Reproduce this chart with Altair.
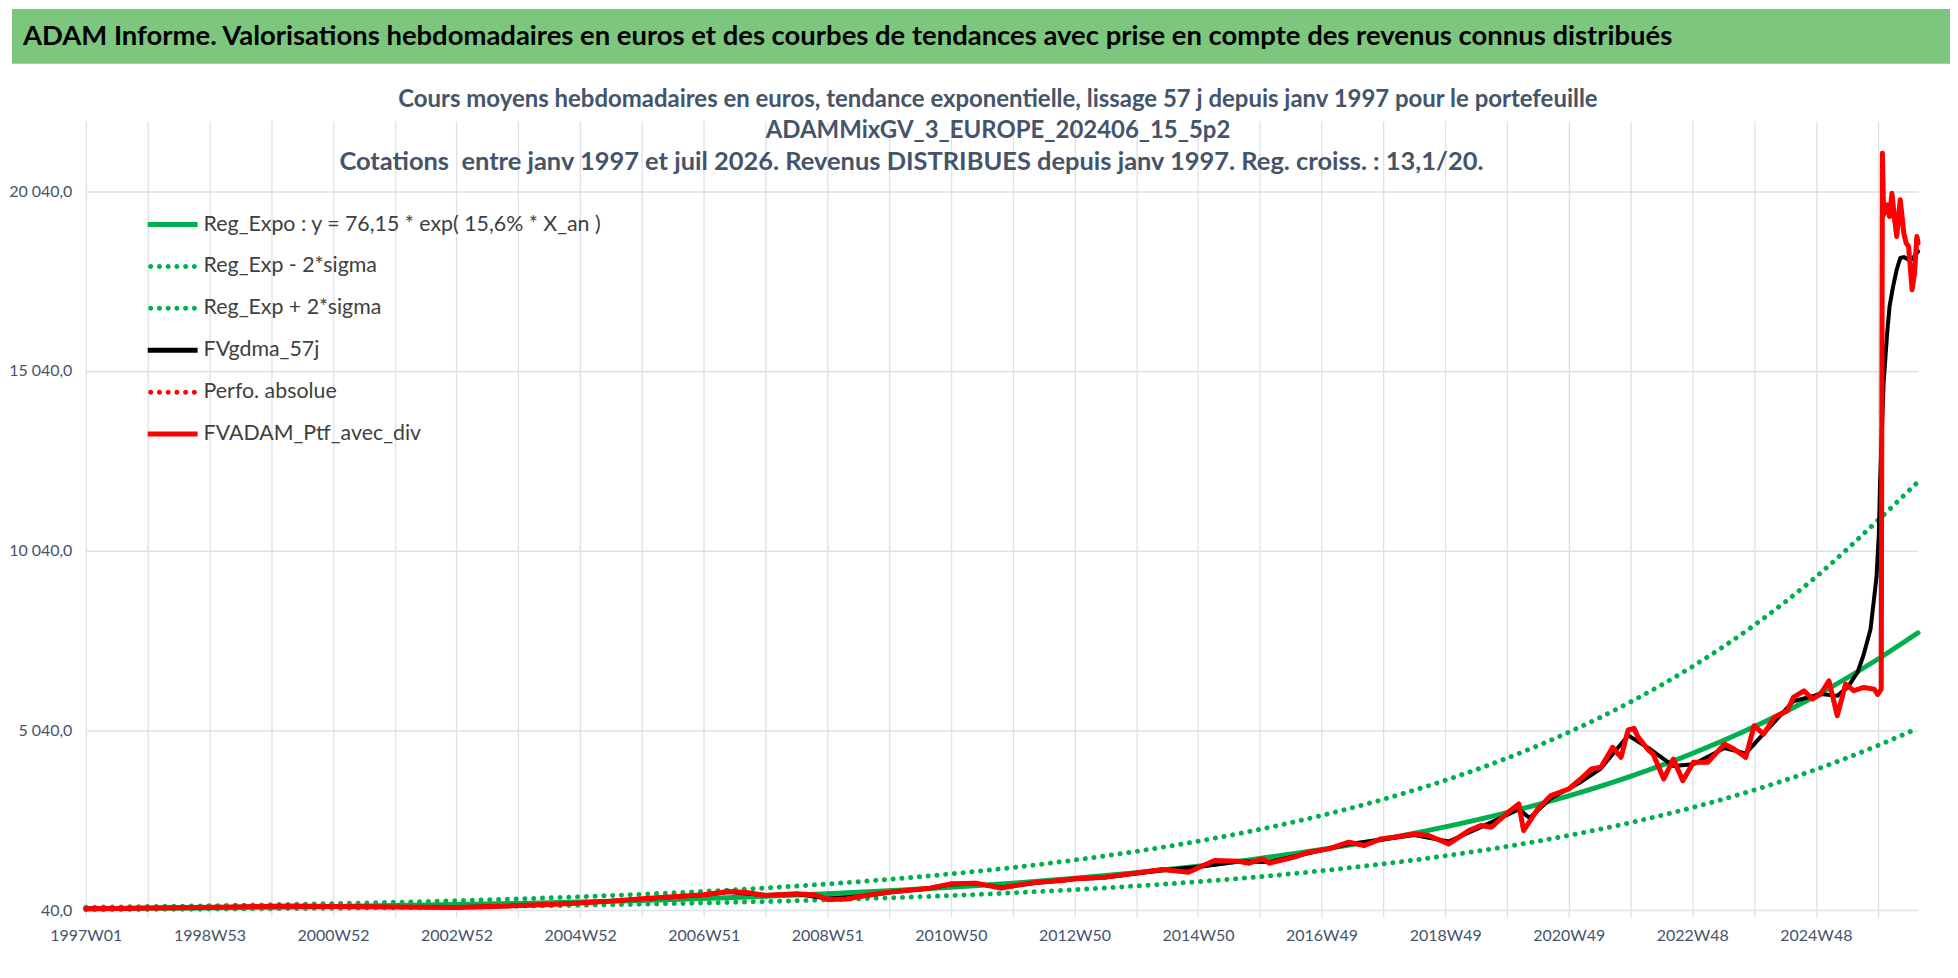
import altair as alt
import pandas as pd

# ---------------- data ----------------
banner_title = ["ADAM Informe. Valorisations hebdomadaires en euros et des courbes de tendances avec prise en compte des revenus connus distribués"]
chart_title = [
    "Cours moyens hebdomadaires  en euros, tendance exponentielle, lissage 57 j depuis janv 1997 pour le portefeuille",
    "ADAMMixGV_3_EUROPE_202406_15_5p2",
]
chart_subtitle = "Cotations\u00a0 entre janv 1997 et juil 2026. Revenus DISTRIBUES depuis janv 1997. Reg. croiss. : 13,1/20." + "\u00a0" * 28 + "\u200b"
series_names = [
    "Reg_Expo : y = 76,15 * exp( 15,6% *  X_an )",
    "Reg_Exp - 2*sigma",
    "Reg_Exp + 2*sigma",
    "FVgdma_57j",
    "Perfo. absolue",
    "FVADAM_Ptf_avec_div",
]
x_tick_labels = ["1997W01", "1998W53", "2000W52", "2002W52", "2004W52", "2006W51", "2008W51",
                 "2010W50", "2012W50", "2014W50", "2016W49", "2018W49", "2020W49", "2022W48", "2024W48"]
y_ticks = [40, 5040, 10040, 15040, 20040]

# week index since 1997W01
reg_week = [0, 52, 104, 156, 208, 260, 312, 364, 416, 468, 520, 572, 624, 676, 728, 780,
            832, 884, 936, 988, 1040, 1092, 1144, 1196, 1248, 1300, 1352, 1404, 1456, 1508, 1542]
reg_expo = [76, 89, 104, 122, 142, 166, 194, 227, 265, 310, 362, 423, 495, 579, 676, 790,
            924, 1080, 1262, 1475, 1724, 2015, 2355, 2753, 3218, 3761, 4396, 5138, 6005, 7019, 7755]
reg_upper = [118, 138, 161, 189, 220, 257, 301, 352, 411, 481, 561, 656, 767, 897, 1048, 1225,
             1432, 1674, 1956, 2286, 2672, 3123, 3650, 4267, 4988, 5830, 6814, 7964, 9308, 10879, 11957]
reg_lower = [50, 59, 68, 80, 93, 109, 128, 149, 174, 204, 238, 278, 326, 381, 445, 520,
             608, 711, 830, 970, 1134, 1326, 1549, 1811, 2117, 2474, 2892, 3380, 3951, 4618, 5102]

red_points = [
    (0, 78), (26, 85), (52, 98), (78, 108), (104, 118), (130, 128), (156, 148), (172, 155),
    (192, 145), (208, 140), (234, 135), (260, 125), (286, 118), (312, 115), (338, 135),
    (364, 165), (390, 195), (416, 240), (442, 290), (468, 354), (494, 410), (520, 465),
    (541, 559), (556, 530), (572, 448), (598, 493), (614, 460), (624, 337), (640, 350),
    (655, 440), (676, 540), (710, 651), (728, 770), (749, 790), (770, 651), (780, 707),
    (801, 818), (822, 865), (832, 910), (858, 957), (906, 1170), (928, 1095), (939, 1262),
    (950, 1420), (970, 1401), (979, 1345), (990, 1465), (996, 1345), (1017, 1512),
    (1029, 1651), (1046, 1743), (1063, 1929), (1076, 1836), (1090, 2021), (1101, 2068),
    (1118, 2160), (1130, 2114), (1147, 1882), (1164, 2253), (1174, 2392), (1183, 2345),
    (1197, 2762), (1206, 2993), (1210, 2253), (1222, 2854), (1233, 3226), (1248, 3410),
    (1258, 3687), (1267, 3965), (1275, 4012), (1285, 4568), (1292, 4290), (1298, 5054),
    (1303, 5096), (1306, 4873), (1315, 4493), (1319, 4382), (1328, 3687), (1336, 4243),
    (1344, 3642), (1353, 4151), (1365, 4151), (1379, 4659), (1387, 4520), (1397, 4290),
    (1404, 5170), (1412, 4937), (1421, 5401), (1432, 5586), (1437, 5957), (1446, 6142),
    (1453, 5910), (1460, 6049), (1467, 6420), (1474, 5448), (1481, 6327), (1488, 6142),
    (1496, 6234), (1505, 6188), (1508, 6040), (1511, 6188), (1512, 21096), (1513, 19383),
    (1516, 19660), (1518, 19336), (1520, 19984), (1522, 19336), (1524, 18780), (1527, 19800),
    (1530, 18873), (1532, 18595), (1534, 18503), (1537, 17300), (1539, 17762), (1541, 18780),
    (1542, 18595),
]
black_points = [
    (0, 78), (52, 97), (104, 117), (156, 145), (208, 142), (260, 127), (312, 117), (364, 160),
    (416, 236), (468, 348), (520, 460), (541, 545), (572, 460), (598, 485), (624, 360),
    (655, 430), (676, 530), (710, 640), (728, 755), (749, 780), (770, 670), (801, 800),
    (832, 900), (858, 950), (906, 1150), (939, 1250), (970, 1390), (996, 1380), (1029, 1620),
    (1063, 1880), (1090, 2000), (1118, 2130), (1147, 1950), (1174, 2350), (1197, 2700),
    (1206, 2850), (1215, 2600), (1233, 3150), (1258, 3600), (1275, 3980), (1298, 4900),
    (1315, 4550), (1336, 4050), (1353, 4100), (1379, 4550), (1397, 4400), (1412, 4950),
    (1437, 5850), (1460, 6050), (1474, 6000), (1483, 6250), (1491, 6651), (1496, 7123),
    (1502, 7854), (1507, 9300), (1509, 10500), (1510, 11930), (1513, 14707), (1516, 16096),
    (1518, 16836), (1521, 17392), (1524, 17855), (1527, 18180), (1530, 18207), (1534, 18133),
    (1537, 18151), (1542, 18364),
]

# ---------------- styles ----------------
FONT = "Lato"
GRID = "#DDE1E8"
LABEL = "#44546A"
GREEN = "#00B050"
RED = "#FF0000"
BANNER = "#7DC67E"
series_colors = [GREEN, GREEN, GREEN, "#000000", RED, RED]

SOLID = "M-1,-0.1 L1,-0.1 L1,0.1 L-1,0.1 Z"
def dots_path():
    parts = []
    for cx in [-0.88, -0.53, -0.18, 0.17, 0.52, 0.87]:
        parts.append(f"M{cx - 0.1:.2f},0 a0.1,0.1 0 1,0 0.2,0 a0.1,0.1 0 1,0 -0.2,0 Z")
    return " ".join(parts)
DOTS = dots_path()
series_shapes = [SOLID, DOTS, DOTS, SOLID, DOTS, SOLID]

W, H = 1836, 791
LEFT = 74  # room for the y-axis labels, used to stretch the banner over the full width

label_array = "[" + ",".join(f"'{s}'" for s in x_tick_labels) + "]"
x_enc = alt.X(
    "week:Q",
    scale=alt.Scale(domain=[0, 1542], nice=False, zero=False),
    axis=alt.Axis(
        values=list(range(0, 1509, 52)),
        labelExpr=f"datum.value % 104 == 0 ? {label_array}[datum.value / 104] : ''",
        grid=True, gridColor=GRID, gridWidth=1.3,
        ticks=True, tickColor=GRID, tickSize=7, tickWidth=1.3,
        domain=False, title=None,
        labelFont=FONT, labelFontSize=16, labelColor=LABEL, labelPadding=10,
        labelOverlap=False, labelFlush=False, labelBound=False,
    ),
)
y_enc = alt.Y(
    "value:Q",
    scale=alt.Scale(domain=[40, 22000], nice=False, zero=False),
    axis=alt.Axis(
        values=y_ticks,
        labelExpr="replace(replace(format(datum.value, ',.1f'), ',', ' '), '.', ',')",
        grid=True, gridColor=GRID, gridWidth=1.5,
        ticks=False, domain=False, title=None,
        labelFont=FONT, labelFontSize=16, labelColor=LABEL, labelPadding=14,
    ),
)


def frame(points):
    return pd.DataFrame(points, columns=["week", "value"])


def line_layer(df, color, width, dotted, interp):
    kw = dict(color=color, strokeWidth=width, interpolate=interp,
              strokeCap="round", strokeJoin="round")
    if dotted:
        kw["strokeDash"] = [0.1, 8.7]
    return alt.Chart(df).mark_line(**kw).encode(x=x_enc, y=y_enc)


reg_df = pd.DataFrame({"week": reg_week, "value": reg_expo})
up_df = pd.DataFrame({"week": reg_week, "value": reg_upper})
lo_df = pd.DataFrame({"week": reg_week, "value": reg_lower})
red_df = frame(red_points)
black_df = frame(black_points)

layers = [
    line_layer(reg_df, GREEN, 5, False, "monotone"),
    line_layer(lo_df, GREEN, 5, True, "monotone"),
    line_layer(up_df, GREEN, 5, True, "monotone"),
    line_layer(black_df, "#000000", 4, False, "linear"),
    line_layer(red_df, RED, 4.5, True, "linear"),
    line_layer(red_df, RED, 5, False, "linear"),
]

legend_common = dict(
    title=None, orient="none", legendX=62, legendY=79,
    labelFont=FONT, labelFontSize=21.4, labelColor="#404040", labelLimit=800,
    symbolSize=2500, symbolStrokeWidth=0, rowPadding=6, labelOffset=6, padding=0,
)
legend_df = pd.DataFrame({"series": series_names})
legend_layer = alt.Chart(legend_df).mark_point(filled=True, opacity=1, size=2500).encode(
    color=alt.Color("series:N", scale=alt.Scale(domain=series_names, range=series_colors),
                    legend=alt.Legend(**legend_common)),
    shape=alt.Shape("series:N", scale=alt.Scale(domain=series_names, range=series_shapes),
                    legend=alt.Legend(**legend_common)),
).transform_filter("false")

main = alt.layer(*layers, legend_layer).properties(
    width=W, height=H,
    title=alt.TitleParams(
        text=chart_title, font=FONT, fontSize=24, fontWeight="bold", color=LABEL,
        subtitle=chart_subtitle, subtitleFont=FONT, subtitleFontSize=25.5,
        subtitleFontWeight="bold", subtitleColor=LABEL, subtitlePadding=7,
        anchor="middle", frame="group", offset=-55, lineHeight=31.5, dx=-4,
    ),
)

banner_df = pd.DataFrame({"t": banner_title})
banner_rect = alt.Chart(banner_df).mark_rect(color=BANNER).encode(
    x=alt.value(-LEFT), x2=alt.value(1942 - LEFT), y=alt.value(0), y2=alt.value(55)
)
banner_text = alt.Chart(banner_df).mark_text(
    align="left", baseline="middle", font=FONT, fontSize=27.5, fontWeight="bold", color="#000000"
).encode(x=alt.value(11 - LEFT), y=alt.value(28), text="t:N")
banner = alt.layer(banner_rect, banner_text).properties(width=W, height=55)

chart = (
    alt.concat(banner, main, columns=1, align="none", spacing=24)
    .resolve_legend(color="independent", shape="independent")
    .properties(padding=0)
    .configure_view(stroke=None)
)

chart.save("out.html", embed_options={"renderer": "svg", "actions": False})
